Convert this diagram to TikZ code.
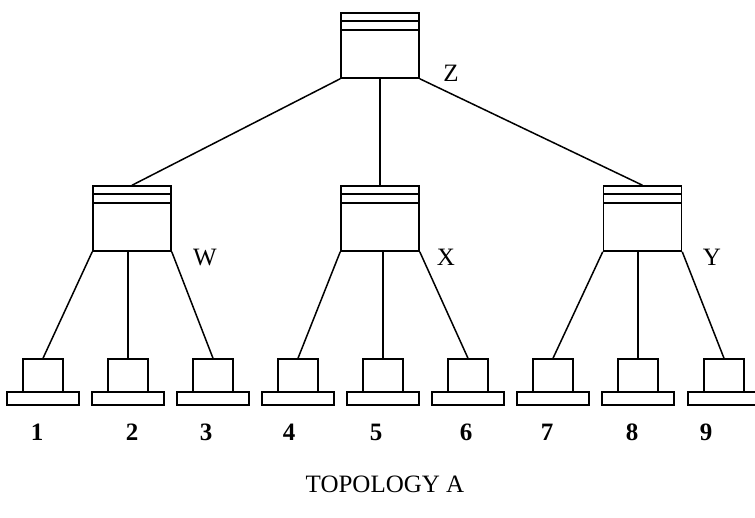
\documentclass[tikz,border=0pt]{standalone}
\usepackage{fontspec}
\setmainfont{Liberation Serif}
\begin{document}
\begin{tikzpicture}[x=1pt,y=-1pt,line width=1.5pt,
  hub/.style={draw,rectangle,inner sep=0pt,minimum width=78pt,minimum height=65pt,
    path picture={
      \draw ([yshift=-8pt]path picture bounding box.north west) -- ([yshift=-8pt]path picture bounding box.north east);
      \draw ([yshift=-17pt]path picture bounding box.north west) -- ([yshift=-17pt]path picture bounding box.north east);}},
  pcbox/.style={draw,rectangle,inner sep=0pt,minimum width=40pt,minimum height=33pt},
  pcbase/.style={draw,rectangle,inner sep=0pt,minimum width=72pt,minimum height=13pt},
  lbl/.style={font=\fontsize{25}{28}\selectfont,inner sep=0pt},
  num/.style={font=\fontsize{25}{28}\selectfont\bfseries,inner sep=0pt}]
\useasboundingbox (0,0) rectangle (755,517);
% hubs
\node[hub] (Z) at (380,45.5) {};
\node[hub] (W) at (132,218.5) {};
\node[hub] (X) at (380,218.5) {};
\node[hub] (Y) at (642.5,218.5) {};
\node[lbl] (lZ) at (451,73) {Z};
\node[lbl] (lW) at (205,257) {W};
\node[lbl] (lX) at (446,257) {X};
\node[lbl] (lY) at (712,257) {Y};
% computers
\foreach \i/\x/\lx in {1/43/37,2/128/132,3/213/206,4/298/289,5/383/376,6/468/466,7/553/547,8/638/632,9/724/706}{
  \node[pcbox] (c\i) at (\x,375.5) {};
  \node[pcbase] (b\i) at (\x,398.5) {};
  \node[num] (n\i) at (\lx,432) {\i};
}
% connectors
\draw (Z.south west) -- (W.north);
\draw (Z.south) -- (X.north);
\draw (Z.south east) -- (Y.north);
\draw (W.south west) -- (c1.north);
\draw (c2.north |- W.south) -- (c2.north);
\draw (W.south east) -- (c3.north);
\draw (X.south west) -- (c4.north);
\draw (c5.north |- X.south) -- (c5.north);
\draw (X.south east) -- (c6.north);
\draw (Y.south west) -- (c7.north);
\draw (c8.north |- Y.south) -- (c8.north);
\draw (Y.south east) -- (c9.north);
\node[lbl] (title) at (385,484) {TOPOLOGY A};
\end{tikzpicture}
\end{document}
